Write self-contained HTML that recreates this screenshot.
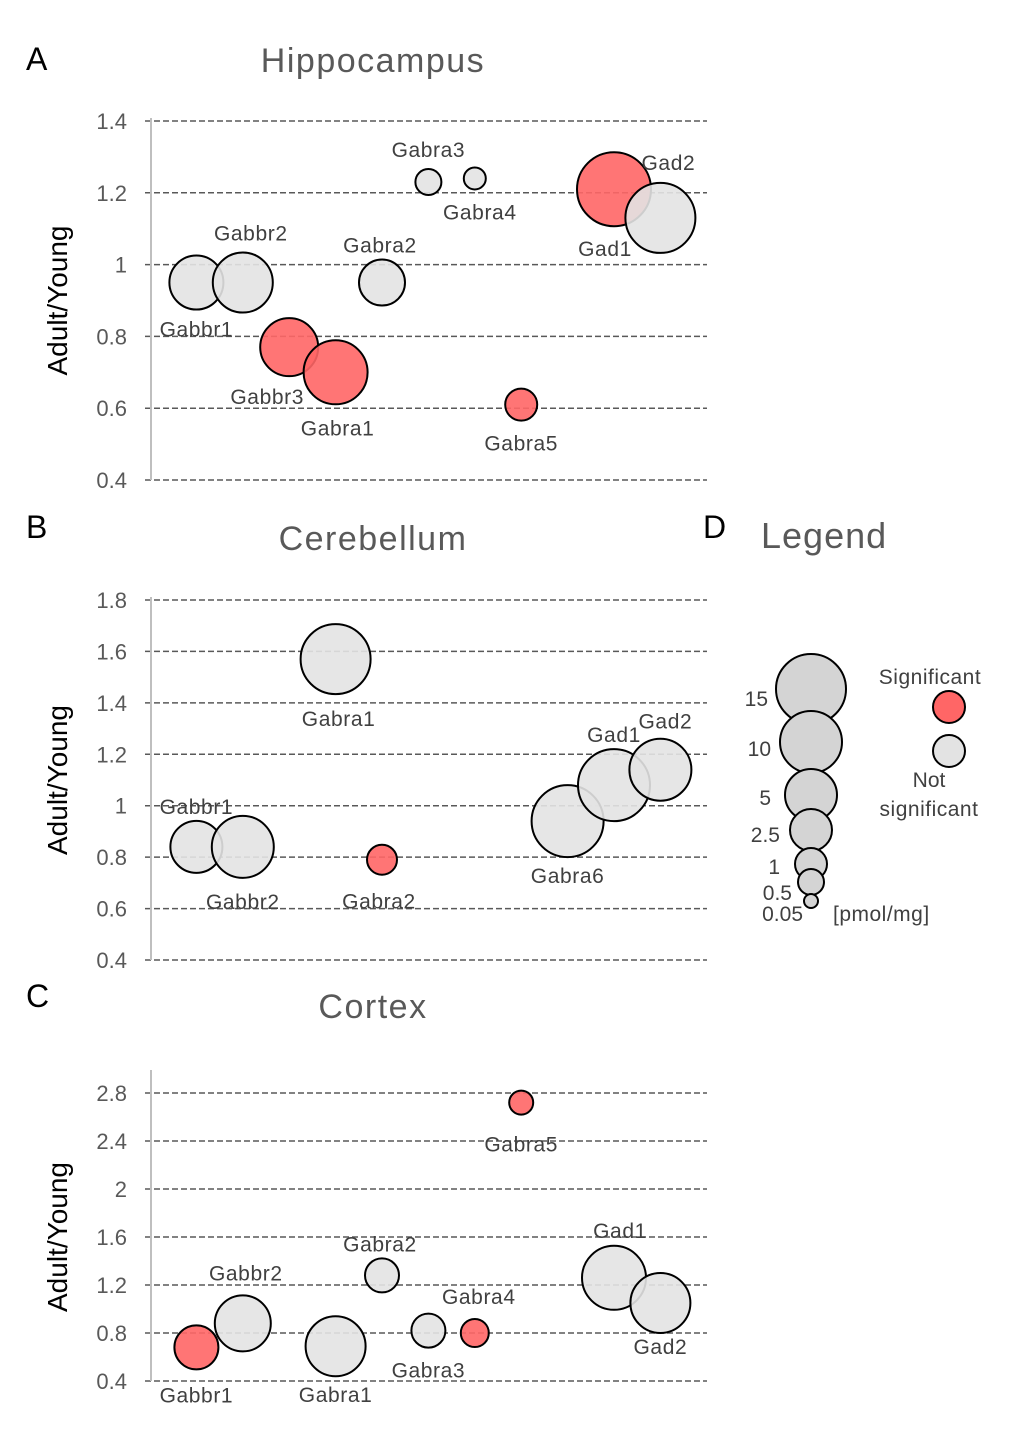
<!DOCTYPE html>
<html><head><meta charset="utf-8"><style>
body{margin:0;background:#fff;}
svg text{font-family:"Liberation Sans",sans-serif;}
</style></head><body>
<svg id="c" width="1020" height="1450" xmlns="http://www.w3.org/2000/svg"></svg>
<script>
// Panel A: Hippocampus
const aCats = ["Gabbr1","Gabbr2","Gabbr3","Gabra1","Gabra2","Gabra3","Gabra4","Gabra5","Gad1","Gad2"];
const aIdx = [1,2,3,4,5,6,7,8,10,11];
const aVals = [0.95,0.95,0.77,0.70,0.95,1.23,1.24,0.61,1.21,1.13];
const aSize = [27,30,29,32,23,13,11,16,37,35];
const aSig = [0,0,1,1,0,0,0,1,1,0];
const aTicks = [0.4,0.6,0.8,1,1.2,1.4];
// Panel B: Cerebellum
const bCats = ["Gabbr1","Gabbr2","Gabra1","Gabra2","Gabra6","Gad1","Gad2"];
const bIdx = [1,2,4,5,9,10,11];
const bVals = [0.84,0.84,1.57,0.79,0.94,1.08,1.14];
const bSize = [26,31,35,15,36,36,31];
const bSig = [0,0,0,1,0,0,0];
const bTicks = [0.4,0.6,0.8,1,1.2,1.4,1.6,1.8];
// Panel C: Cortex
const cCats = ["Gabbr1","Gabbr2","Gabra1","Gabra2","Gabra3","Gabra4","Gabra5","Gad1","Gad2"];
const cIdx = [1,2,4,5,6,7,8,10,11];
const cVals = [0.68,0.88,0.69,1.28,0.82,0.80,2.72,1.26,1.05];
const cSize = [22,28,30,17,17,14,12,32,30];
const cSig = [1,0,0,0,0,1,1,0,0];
const cTicks = [0.4,0.8,1.2,1.6,2,2.4,2.8];
const cTickLbl = ["0.4","0.8","1.2","1.6","2","2.4","2.8"];
// Legend sizes
const legLabels = ["15","10","5","2.5","1","0.5","0.05"];
const legSize = [35,31,26,21,16,13,7];

// label offsets (styling)
const aLab = [[0,47],[8,-49],[-22,50],[2,56],[-2,-37],[0,-32],[5,34],[0,39],[-9,60],[8,-55]];
const bLab = [[0,-40],[0,55],[3,60],[-3,42],[0,55],[0,-50],[5,-48]];
const cLab = [[0,48],[3,-50],[0,49],[-2,-31],[0,40],[4,-36],[0,42],[6,-47],[0,44]];

const svg = document.getElementById('c');
const NS = "http://www.w3.org/2000/svg";
function el(tag, attrs, parent){const e=document.createElementNS(NS,tag);for(const k in attrs)e.setAttribute(k,attrs[k]);(parent||svg).appendChild(e);return e;}
const X0=150, DX=46.4;
function xPos(i){return X0+i*DX;}

function panel(o){
  const g=el('g',{});
  
  
  const y=v=>o.yTop+(o.max-v)/(o.max-o.min)*(o.yBot-o.yTop);
  const t=el('text',{x:o.letterX||26,y:o.letterY,'font-size':32,fill:'#000'},g);t.textContent=o.letter;
  
  const tt=el('text',{x:373,y:o.titleY,'font-size':34,fill:'#595959','text-anchor':'middle','letter-spacing':1.5},g);tt.textContent=o.title;
  
  const yt=el('text',{x:0,y:0,'font-size':28,fill:'#000','text-anchor':'middle',transform:`translate(67,${(o.yTop+o.yBot)/2}) rotate(-90)`},g);yt.textContent="Adult/Young";
  
  o.ticks.forEach((v,i)=>{
    const gl=el('line',{x1:145,x2:707,y1:y(v),y2:y(v),stroke:'#595959','stroke-width':1.5,'stroke-dasharray':'6,3'},g);
    
    const tl=el('text',{x:127,y:y(v)+8,'font-size':22,fill:'#595959','text-anchor':'end'},g);tl.textContent=o.tickLbl?o.tickLbl[i]:String(v);
    
  });
  const ax=el('line',{x1:151,x2:151,y1:o.axTop,y2:o.yBot,stroke:'#bfbfbf','stroke-width':2},g);
  
  o.cats.forEach((c,i)=>{
    const cx=xPos(o.idx[i]), cy=y(o.vals[i]);
    const ci=el('circle',{cx:cx,cy:cy,r:o.size[i],fill:o.sig[i]?'#ff6666':'#e3e3e3',stroke:'#000','stroke-width':2,'fill-opacity':0.9},g);
    
  });
  o.cats.forEach((c,i)=>{
    const cx=xPos(o.idx[i]), cy=y(o.vals[i]);
    const lb=el('text',{x:cx+o.lab[i][0],y:cy+o.lab[i][1]+7,'font-size':21,fill:'#404040','text-anchor':'middle','letter-spacing':0.6},g);lb.textContent=c;
    
  });
}
panel({name:'hippocampus',letter:'A',letterY:70,title:'Hippocampus',titleY:72,min:0.4,max:1.4,yTop:121,yBot:480,axTop:118,ticks:aTicks,cats:aCats,idx:aIdx,vals:aVals,size:aSize,sig:aSig,lab:aLab});
panel({name:'cerebellum',letter:'B',letterY:538,title:'Cerebellum',titleY:550,min:0.4,max:1.8,yTop:600,yBot:960,axTop:597,ticks:bTicks,cats:bCats,idx:bIdx,vals:bVals,size:bSize,sig:bSig,lab:bLab});
panel({name:'cortex',letter:'C',letterY:1007,title:'Cortex',titleY:1018,min:0.4,max:2.8,yTop:1093,yBot:1381,axTop:1070,ticks:cTicks,tickLbl:cTickLbl,cats:cCats,idx:cIdx,vals:cVals,size:cSize,sig:cSig,lab:cLab});

// Legend
const lg=el('g',{});

let t=el('text',{x:703,y:538,'font-size':32,fill:'#000'},lg);t.textContent='D';
t=el('text',{x:761,y:548,'font-size':36,fill:'#595959','letter-spacing':1},lg);t.textContent='Legend';
const legY=[689,742,795,830,864,882,901];
const legTY=[706,756,805,842,874,900,921];
const legTX=[768,771,771,780,780,792,803];
legSize.forEach((r,i)=>{
  const c=el('circle',{cx:811,cy:legY[i],r:r,fill:'#d4d4d4',stroke:'#000','stroke-width':2},lg);
  
  
});
legLabels.forEach((l,i)=>{
  const tx=el('text',{x:legTX[i],y:legTY[i],'font-size':21,fill:'#404040','text-anchor':'end'},lg);tx.textContent=l;
});
t=el('text',{x:833,y:921,'font-size':21,fill:'#404040','letter-spacing':0.5},lg);t.textContent='[pmol/mg]';
let c=el('circle',{cx:949,cy:707,r:16,fill:'#ff6666',stroke:'#000','stroke-width':2},lg);


c=el('circle',{cx:949,cy:751,r:16,fill:'#e3e3e3',stroke:'#000','stroke-width':2},lg);


t=el('text',{x:930,y:684,'font-size':21,fill:'#404040','text-anchor':'middle','letter-spacing':0.5},lg);t.textContent='Significant';
t=el('text',{x:929,y:787,'font-size':21,fill:'#404040','text-anchor':'middle'},lg);t.textContent='Not';
t=el('text',{x:929,y:816,'font-size':21,fill:'#404040','text-anchor':'middle','letter-spacing':0.5},lg);t.textContent='significant';
</script>
</body></html>
